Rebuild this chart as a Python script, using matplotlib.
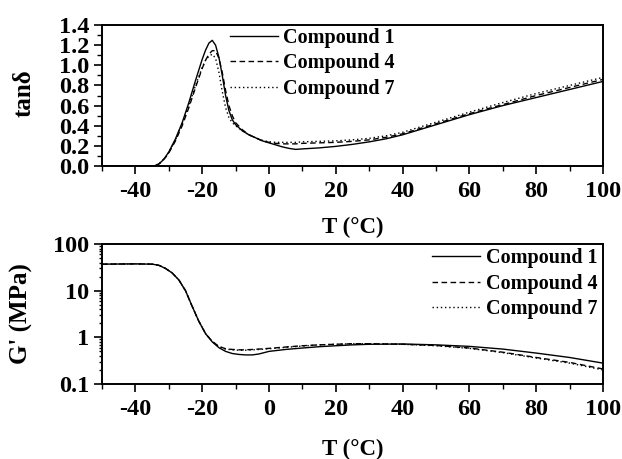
import matplotlib
matplotlib.use("Agg")
import matplotlib.pyplot as plt
from matplotlib.ticker import MultipleLocator, FixedLocator, FixedFormatter, LogLocator, NullFormatter

plt.rcParams['font.family'] = ['Liberation Serif', 'DejaVu Serif']
plt.rcParams['font.weight'] = 'bold'
plt.rcParams['axes.labelweight'] = 'bold'
plt.rcParams['axes.unicode_minus'] = False

labels = ["Compound 1", "Compound 4", "Compound 7"]

# tan delta
T_tan = [-50, -40, -36, -35, -34, -33, -32, -31, -30, -28, -26, -24, -22, -20, -19, -18, -17,
         -16, -15, -14, -13, -12, -11, -10, -8, -6, -4, -2, 0, 2, 4, 6, 8, 10, 15, 20, 25, 30,
         35, 40, 50, 60, 70, 80, 90, 100]
tan_c1 = [0, 0, 0, 0, 0.005, 0.02, 0.05, 0.09, 0.14, 0.27, 0.43, 0.63, 0.85, 1.06, 1.15, 1.22, 1.248,
          1.20, 1.08, 0.90, 0.70, 0.55, 0.46, 0.41, 0.35, 0.31, 0.28, 0.25, 0.23, 0.21, 0.19, 0.175, 0.165, 0.17, 0.18, 0.195, 0.215, 0.24,
          0.27, 0.31, 0.41, 0.51, 0.60, 0.68, 0.76, 0.84]
tan_c4 = [0, 0, 0, 0, 0.005, 0.02, 0.045, 0.085, 0.13, 0.25, 0.40, 0.58, 0.78, 0.97, 1.05, 1.11, 1.145,
          1.145, 1.07, 0.93, 0.75, 0.60, 0.50, 0.43, 0.36, 0.31, 0.28, 0.25, 0.235, 0.225, 0.22, 0.22, 0.22, 0.225, 0.23, 0.235, 0.245, 0.26,
          0.285, 0.32, 0.42, 0.52, 0.61, 0.70, 0.78, 0.86]
tan_c7 = [0, 0, 0, 0, 0.005, 0.02, 0.05, 0.09, 0.135, 0.26, 0.42, 0.60, 0.80, 0.98, 1.05, 1.09, 1.11,
          1.07, 0.93, 0.74, 0.58, 0.48, 0.43, 0.40, 0.35, 0.31, 0.28, 0.255, 0.24, 0.235, 0.235, 0.235, 0.235, 0.24, 0.245, 0.25, 0.26, 0.275,
          0.30, 0.335, 0.435, 0.535, 0.63, 0.72, 0.80, 0.88]

# G'
T_g = [-50, -40, -35, -33, -31, -29, -27, -25, -23, -21, -19, -17, -15, -13, -11, -9, -7, -5, -3,
       0, 5, 10, 15, 20, 25, 30, 40, 50, 60, 70, 80, 90, 100]
g_c1 = [37, 37.5, 37, 35, 30, 24, 17, 10, 4.6, 2.2, 1.2, 0.80, 0.60, 0.50, 0.45, 0.43, 0.42, 0.42, 0.44,
        0.50, 0.55, 0.59, 0.63, 0.66, 0.69, 0.71, 0.72, 0.69, 0.64, 0.56, 0.46, 0.37, 0.28]
g_c4 = [37, 37.5, 37, 35, 30, 24, 17, 10, 4.6, 2.2, 1.2, 0.82, 0.64, 0.57, 0.55, 0.54, 0.54, 0.55, 0.56,
        0.58, 0.62, 0.66, 0.69, 0.71, 0.73, 0.73, 0.71, 0.67, 0.59, 0.48, 0.37, 0.29, 0.21]
g_c7 = [37, 37.5, 37, 35, 30, 24, 17, 10, 4.6, 2.2, 1.2, 0.82, 0.63, 0.56, 0.54, 0.53, 0.53, 0.54, 0.55,
        0.57, 0.61, 0.65, 0.69, 0.71, 0.73, 0.73, 0.71, 0.66, 0.58, 0.47, 0.36, 0.28, 0.20]

x_ticks = [-40, -20, 0, 20, 40, 60, 80, 100]
tan_ticks = [0.0, 0.2, 0.4, 0.6, 0.8, 1.0, 1.2, 1.4]
g_ticks = [0.1, 1, 10, 100]
g_tick_labels = ["0.1", "1", "10", "100"]

styles = [dict(ls='-'), dict(ls=(0, (4, 2.5))), dict(ls=(0, (1, 2)))]

fig = plt.figure(figsize=(6.22, 4.59), dpi=100)
ax1 = fig.add_axes([0.164, 0.6383, 0.8055, 0.3072])
ax2 = fig.add_axes([0.164, 0.1634, 0.8055, 0.305])

for ys, st, lab in zip([tan_c1, tan_c4, tan_c7], styles, labels):
    ax1.plot(T_tan, ys, color='black', lw=1.0, label=lab, **st)
for ys, st, lab in zip([g_c1, g_c4, g_c7], styles, labels):
    ax2.plot(T_g, ys, color='black', lw=1.0, label=lab, **st)

for ax in (ax1, ax2):
    ax.set_xlim(-50, 100)
    ax.xaxis.set_major_locator(FixedLocator(x_ticks))
    ax.xaxis.set_minor_locator(MultipleLocator(10))
    ax.tick_params(which='major', direction='out', length=6, width=1.2, labelsize=17.5, pad=5)
    ax.tick_params(which='minor', direction='out', length=3.5, width=1.0)
    ax.tick_params(top=False, right=False, which='both')
    for s in ax.spines.values():
        s.set_linewidth(1.4)

ax1.set_ylim(0, 1.4)
ax1.yaxis.set_major_locator(FixedLocator(tan_ticks))
ax1.yaxis.set_major_formatter(FixedFormatter([f"{v:.1f}" for v in tan_ticks]))
ax1.yaxis.set_minor_locator(MultipleLocator(0.1))
ax1.tick_params(axis='y', which='major', pad=3)

ax2.set_yscale('log')
ax2.set_ylim(0.1, 100)
ax2.yaxis.set_major_locator(FixedLocator(g_ticks))
ax2.yaxis.set_major_formatter(FixedFormatter(g_tick_labels))
ax2.yaxis.set_minor_locator(LogLocator(base=10, subs=range(2, 10)))
ax2.yaxis.set_minor_formatter(NullFormatter())
ax2.tick_params(axis='y', which='minor', length=2.5)
ax2.tick_params(axis='y', which='major', pad=3)

ax1.set_xlabel("T (°C)", fontsize=16.5)
ax2.set_xlabel("T (°C)", fontsize=16.5)
ax1.xaxis.set_label_coords(0.5, -0.36)
ax2.xaxis.set_label_coords(0.5, -0.39)
ax1.set_ylabel("tanδ", fontsize=18)
ax2.set_ylabel("G' (MPa)", fontsize=18)
ax1.yaxis.set_label_coords(-0.132, 0.52)
ax2.yaxis.set_label_coords(-0.138, 0.5)

leg_kw = dict(frameon=False, fontsize=14.5, handlelength=2.4, handletextpad=0.25,
              labelspacing=0.27, borderpad=0, borderaxespad=0)
ax1.legend(loc='upper left', bbox_to_anchor=(0.2555, 0.98), **leg_kw)
ax2.legend(loc='upper right', bbox_to_anchor=(0.988, 0.97), **leg_kw)

fig.savefig("out.png", dpi=100)
